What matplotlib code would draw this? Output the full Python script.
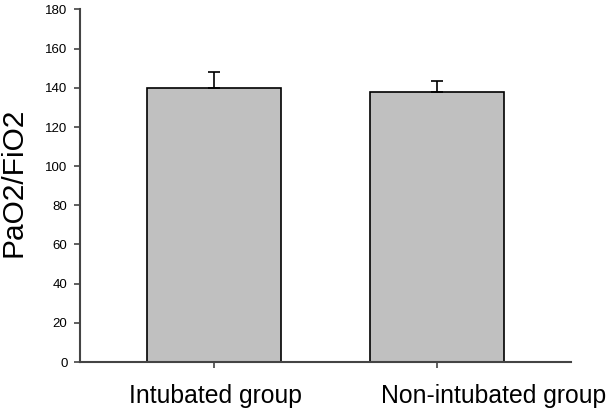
import matplotlib
matplotlib.use("Agg")
import matplotlib.pyplot as plt
from matplotlib.transforms import ScaledTranslation

categories = ["Intubated group", "Non-intubated group"]
values = [140, 138]
errors = [8, 5.7]
yticks = [0, 20, 40, 60, 80, 100, 120, 140, 160, 180]

plt.rcParams['font.family'] = ['Liberation Sans', 'DejaVu Sans']

fig = plt.figure(figsize=(6.08, 4.11), dpi=100)
ax = fig.add_axes([80/608, 1 - 362/411, 491/608, 352.5/411])

x = list(range(len(categories)))
ax.bar(x, values, width=0.6, color="#c0c0c0", edgecolor="black", linewidth=1.2, zorder=2)
ax.errorbar(x, values, yerr=[[0]*len(errors), errors], fmt="none", ecolor="black",
            elinewidth=1.2, capsize=4.3, capthick=1.2, zorder=3)

ax.set_xlim(-0.6, 1.6)
ax.set_ylim(0, 180)
ax.set_yticks(yticks)
ax.set_xticks(x)
ax.set_xticklabels(categories, fontsize=17.8)
ax.tick_params(axis='y', labelsize=9.5, length=4, width=1.2, color="#444444", pad=5)
ax.tick_params(axis='x', length=4.5, width=1.2, color="#444444", pad=11)
offsets = [2, 57]
for lbl, dx in zip(ax.get_xticklabels(), offsets):
    lbl.set_transform(lbl.get_transform() + ScaledTranslation(dx/100, 0, fig.dpi_scale_trans))
for s in ["top", "right"]:
    ax.spines[s].set_visible(False)
for s in ["left", "bottom"]:
    ax.spines[s].set_linewidth(1.5)
    ax.spines[s].set_color("#444444")
ax.set_ylabel("PaO2/FiO2", fontsize=21.5)
ax.yaxis.set_label_coords(-52/491, 0.51)

fig.savefig("out.png", dpi=100)
